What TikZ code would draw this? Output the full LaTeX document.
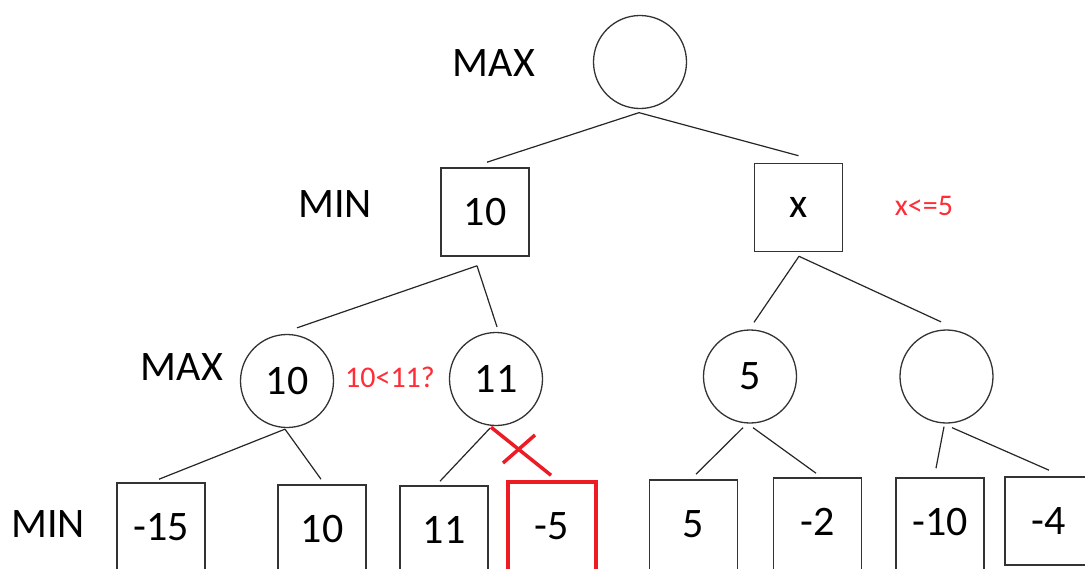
\documentclass[tikz,border=0pt]{standalone}
\usepackage{fontspec}
\setmainfont{Carlito}
\definecolor{myred}{RGB}{237,28,36}
\definecolor{txtred}{RGB}{255,45,55}
\begin{document}
\begin{tikzpicture}[x=1pt,y=-1pt,
  big/.style={font=\fontsize{42}{50}\selectfont},
  lbl/.style={big, anchor=base, inner sep=0pt},
  redlbl/.style={font=\fontsize{30}{36}\selectfont, text=txtred, anchor=base, inner sep=0pt},
  circ/.style={circle, draw=black!80, line width=1.3pt, minimum size=93pt, inner sep=0pt, big},
  sq/.style={rectangle, draw=black!80, line width=1.6pt, minimum size=88pt, inner sep=0pt, big},
  leaf/.style={sq, minimum height=96pt, text depth=8pt},
  redleaf/.style={leaf, draw=myred, line width=3.5pt},
  edge/.style={draw=black!85, line width=1.2pt},
  cut/.style={draw=myred, line width=3.5pt}]
\useasboundingbox (0,0) rectangle (1085,568);
\clip (0,0) rectangle (1085,568);
\fill[white] (0,0) rectangle (1085,568);

% level labels
\node[lbl] (lmax1) at (494,76) {MAX};
\node[lbl] (lmin1) at (335,217) {MIN};
\node[lbl] (lmax2) at (182,380) {MAX};
\node[lbl] (lmin2) at (48,537) {MIN};

% nodes
\node[circ] (root) at (640,62) {};
\node[sq] (m1) at (485,212) {10};
\node[sq] (mx) at (798.5,207.5) {x};
\node[circ] (a) at (287,381) {10};
\node[circ] (b) at (496,379) {11};
\node[circ] (c) at (750,376.5) {5};
\node[circ] (d) at (946.5,376.5) {};
\node[leaf] (l1) at (161,531) {-15};
\node[leaf] (l2) at (322,533) {10};
\node[leaf] (l3) at (444,534) {11};
\node[redleaf] (l4) at (552,530) {-5};
\node[leaf] (l5) at (693.5,528) {5};
\node[leaf] (l6) at (817.5,526) {-2};
\node[leaf] (l7) at (940,526) {-10};
\node[sq] (l8) at (1049,521) {-4};

% red annotations
\node[redlbl] (cmp) at (390,387) {10<11?};
\node[redlbl] (bound) at (924,215) {x<=5};

% edges
\draw[edge] ([shift={(-1,3.5)}]root.south) -- ([shift={(2,-5)}]m1.north);
\draw[edge] ([shift={(-1,3.5)}]root.south) -- ([shift={(0,-7)}]mx.north);
\draw[edge] ([shift={(-8,9)}]m1.south) -- ([shift={(10,-6)}]a.north);
\draw[edge] ([shift={(-8,9)}]m1.south) -- ([shift={(1,-5)}]b.north);
\draw[edge] ([shift={(0.5,4)}]mx.south) -- ([shift={(4,-7)}]c.north);
\draw[edge] ([shift={(0.5,4)}]mx.south) -- ([shift={(-5.5,-7.5)}]d.north);
\draw[edge] ([shift={(-2,1)}]a.south) -- ([shift={(-2,-3)}]l1.north);
\draw[edge] ([shift={(-2,1)}]a.south) -- ([shift={(-1,-5)}]l2.north);
\draw[edge] ([shift={(-6,2)}]b.south) -- ([shift={(-4,-4)}]l3.north);
\draw[edge] ([shift={(-7,4)}]c.south) -- ([shift={(2.5,-5)}]l5.north);
\draw[edge] ([shift={(3,4)}]c.south) -- ([shift={(-1.5,-4)}]l6.north);
\draw[edge] ([shift={(-2.5,3)}]d.south) -- ([shift={(-4,-9)}]l7.north);
\draw[edge] ([shift={(5.5,4)}]d.south) -- ([shift={(0,-6)}]l8.north);

% pruned edge with cross
\draw[cut] ([shift={(-5,1)}]b.south) -- ([shift={(-1,-5)}]l4.north);
\coordinate (xa) at (503,463);
\coordinate (xb) at (535,435);
\draw[cut] (xa) -- (xb);
\end{tikzpicture}
\end{document}
